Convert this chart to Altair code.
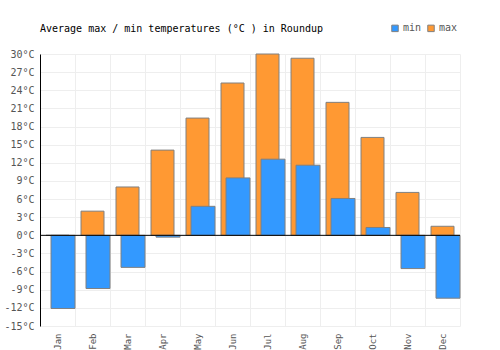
import altair as alt
import pandas as pd

months = ["Jan", "Feb", "Mar", "Apr", "May", "Jun", "Jul", "Aug", "Sep", "Oct", "Nov", "Dec"]
max_t = [0, 4, 8, 14.1, 19.4, 25.2, 30, 29.3, 22, 16.2, 7.1, 1.5]
min_t = [-12.1, -8.8, -5.3, -0.3, 4.8, 9.5, 12.6, 11.6, 6.1, 1.3, -5.5, -10.4]
y_ticks = list(range(-15, 31, 3))

FONT = "DejaVu Sans Mono"
BLUE = "#3399ff"
ORANGE = "#ff9933"

df = pd.DataFrame(
    [{"month": m, "series": "max", "value": v} for m, v in zip(months, max_t)]
    + [{"month": m, "series": "min", "value": v} for m, v in zip(months, min_t)]
)

x_enc = alt.X(
    "month:N",
    sort=months,
    scale=alt.Scale(paddingInner=0, paddingOuter=0),
    axis=alt.Axis(
        title=None, labelAngle=-90, labelAlign="right", labelBaseline="middle",
        tickBand="extent", grid=True, gridColor="#eeeeee", domain=False, ticks=False,
        labelPadding=7, labelColor="#555555", labelFont=FONT, labelFontSize=9,
        labelOverlap=False,
    ),
)
y_enc = alt.Y(
    "value:Q",
    scale=alt.Scale(domain=[-15, 30], nice=False, zero=False),
    axis=alt.Axis(
        title=None, values=y_ticks, labelExpr="datum.value + '°C'",
        grid=True, gridColor="#eeeeee", domain=True, domainColor="#000000",
        ticks=False, labelPadding=6, labelColor="#555555", labelFont=FONT, labelFontSize=10,
        labelOverlap=False,
    ),
)
color_enc = alt.Color(
    "series:N",
    scale=alt.Scale(domain=["min", "max"], range=[BLUE, ORANGE]),
    legend=alt.Legend(
        title=None, orient="none", direction="horizontal", legendX=350, legendY=-31,
        symbolType="square", symbolSize=42, symbolStrokeColor="#808080", symbolStrokeWidth=1,
        labelFont=FONT, labelFontSize=10, labelColor="#555555", columnPadding=3,
        labelOffset=3,
    ),
)

base = alt.Chart(df)
max_bars = base.transform_filter("datum.series == 'max'").mark_bar(
    size=23, stroke="#808080", strokeWidth=1
).encode(x=x_enc, y=y_enc, color=color_enc)
min_bars = base.transform_filter("datum.series == 'min'").mark_bar(
    size=24, xOffset=5.5, stroke="#808080", strokeWidth=1
).encode(x=x_enc, y=y_enc, color=color_enc)
zero = alt.Chart(pd.DataFrame({"value": [0]})).mark_rule(
    color="#000000", strokeWidth=1
).encode(y=y_enc)

chart = alt.layer(max_bars, min_bars, zero).properties(
    width=420, height=272,
    title=alt.Title(
        "Average max / min temperatures (°C ) in Roundup", anchor="start", frame="group",
        font=FONT, fontSize=10, fontWeight="normal", color="#000000", offset=-11,
    ),
    autosize=alt.AutoSizeParams(type="none"),
    padding={"left": 40, "top": 54, "right": 40, "bottom": 24},
).configure_view(strokeWidth=0)

chart.save("out.html", embed_options={"renderer": "svg", "actions": False})
